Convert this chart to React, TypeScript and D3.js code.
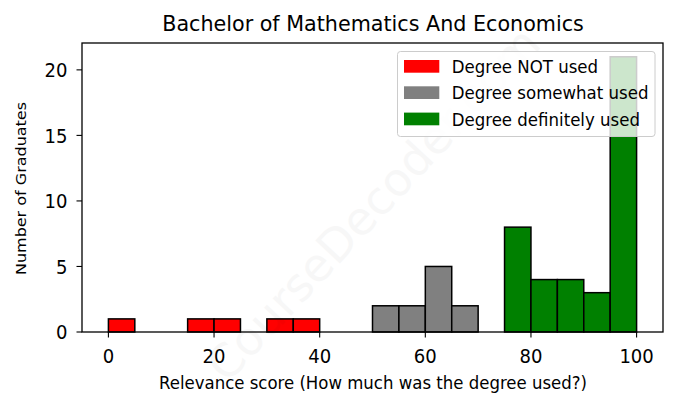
import React from "react";
import * as d3 from "d3";

const binStarts = [0, 15, 20, 30, 35, 50, 55, 60, 65, 75, 80, 85, 90, 95];
const counts = [1, 1, 1, 1, 1, 2, 2, 5, 2, 8, 4, 4, 3, 21];
const groups = ["not", "not", "not", "not", "not", "some", "some", "some", "some", "def", "def", "def", "def", "def"];
const legendLabels = ["Degree NOT used", "Degree somewhat used", "Degree definitely used"];
const legendKeys = ["not", "some", "def"];
const xTicks = [0, 20, 40, 60, 80, 100];
const yTicks = [0, 5, 10, 15, 20];
const binWidth = 5;

const colors: Record<string, string> = { not: "#ff0000", some: "#808080", def: "#008000" };
const font = "DejaVu Sans, sans-serif";

function T(props: { x: number; y: number; size: number; sx?: number; anchor?: string; children: React.ReactNode }) {
  const { x, y, size, sx = 0.92, anchor = "start", children } = props;
  return (
    <text transform={`translate(${x} ${y}) scale(${sx} 1)`} textAnchor={anchor} fontFamily={font} fontSize={size} fill="#000">
      {children}
    </text>
  );
}

export default function App() {
  const W = 678, H = 408;
  const left = 82, right = 663, top = 43, bottom = 332;
  const x = d3.scaleLinear().domain([-5, 105]).range([left, right]);
  const y = d3.scaleLinear().domain([0, 22.05]).range([bottom, top]);
  return (
    <svg width={W} height={H} style={{ position: "absolute", left: 0, top: 0, background: "#fff" }}>
      <rect x={0} y={0} width={W} height={H} fill="#fff" />
      {binStarts.map((b, i) => (
        <rect key={i} x={x(b)} y={y(counts[i])} width={x(b + binWidth) - x(b)} height={y(0) - y(counts[i])}
          fill={colors[groups[i]]} stroke="#000" strokeWidth={1.5} />
      ))}
      <text x={385} y={215} transform="rotate(-47 385 215)" textAnchor="middle" fontFamily={font} fontSize={46}
        fill="#000" opacity={0.028}>CourseDecoder.com</text>
      {/* legend */}
      <g>
        <rect x={397.5} y={51.5} width={257.5} height={85} rx={3} fill="#fff" fillOpacity={0.8} stroke="#ccc" strokeWidth={1} />
        {legendKeys.map((k, i) => (
          <g key={k}>
            <rect x={404} y={60 + i * 26.3} width={35.3} height={12.7} fill={colors[k]} />
            <T x={451.7} y={72.5 + i * 26.5} size={17.2} sx={0.965}>{legendLabels[i]}</T>
          </g>
        ))}
      </g>
      <rect x={left} y={top} width={right - left} height={bottom - top} fill="none" stroke="#000" strokeWidth={1.3} />
      {xTicks.map(t => (
        <g key={t}>
          <line x1={x(t)} x2={x(t)} y1={bottom} y2={bottom + 5.5} stroke="#000" strokeWidth={1.1} />
          <T x={x(t)} y={362.7} size={19.6} anchor="middle">{t}</T>
        </g>
      ))}
      {yTicks.map(t => (
        <g key={t}>
          <line x1={left - 5.5} x2={left} y1={y(t)} y2={y(t)} stroke="#000" strokeWidth={1.1} />
          <T x={67.5} y={y(t) + 7.1} size={19.6} anchor="end">{t}</T>
        </g>
      ))}
      <T x={373} y={31} size={22} sx={0.94} anchor="middle">Bachelor of Mathematics And Economics</T>
      <T x={373} y={389.3} size={18.2} sx={0.91} anchor="middle">Relevance score (How much was the degree used?)</T>
      <text transform={`translate(25.5 188.5) scale(0.91 1) rotate(-90)`} textAnchor="middle" fontFamily={font}
        fontSize={16} fill="#000">Number of Graduates</text>
    </svg>
  );
}
